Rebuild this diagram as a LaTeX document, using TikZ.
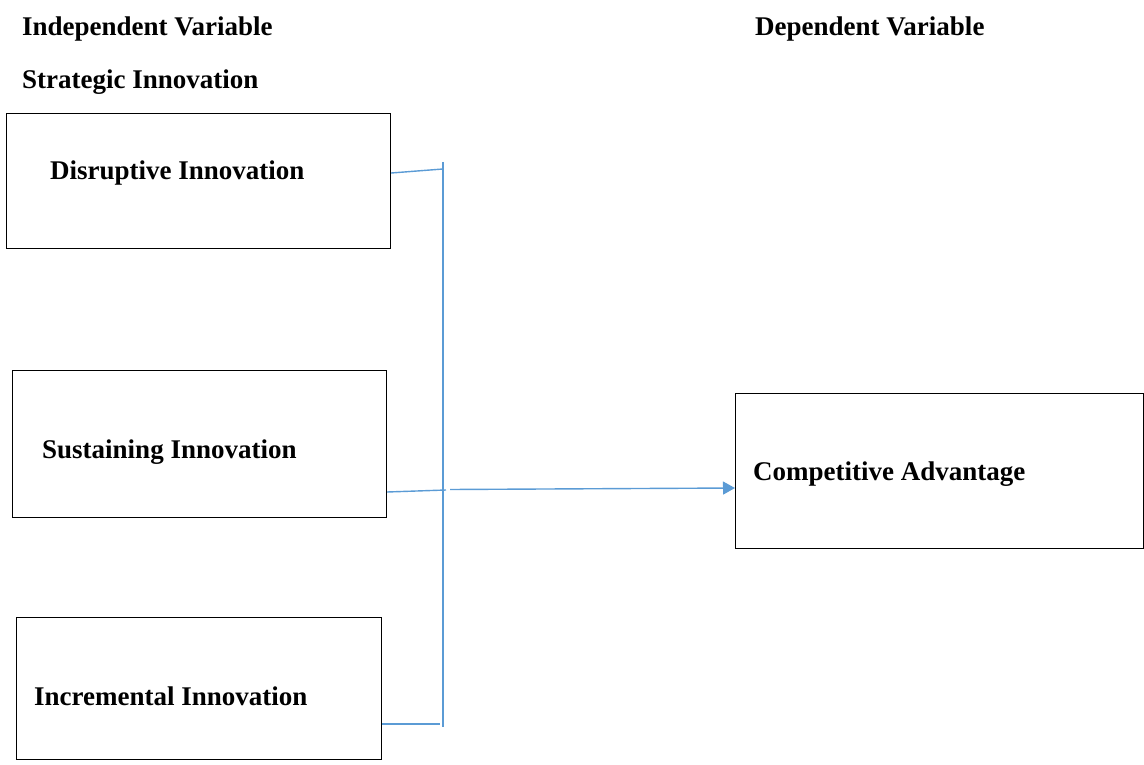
\documentclass[tikz,border=0pt]{standalone}
\usepackage{fontspec}
\setmainfont{Liberation Serif}
\usetikzlibrary{arrows.meta}
\definecolor{linkblue}{RGB}{91,155,213}
\begin{document}
\begin{tikzpicture}[x=1pt,y=-1pt,
  box/.style={draw=black,line width=1.2pt,rectangle,inner sep=0pt,anchor=north west},
  lbl/.style={anchor=west,inner sep=0pt,font=\fontsize{27}{32}\selectfont\bfseries},
  link/.style={draw=linkblue,line width=1.4pt}]
\useasboundingbox (0,0) rectangle (1144,765);
\node[lbl] (indep) at (22,29) {Independent Variable};
\node[lbl] (dep) at (755,29) {Dependent Variable};
\node[lbl] (strat) at (22,82) {Strategic Innovation};
\node[box,minimum width=384pt,minimum height=135pt] (dis) at (6,113) {};
\node[box,minimum width=374pt,minimum height=147pt] (sus) at (12,370) {};
\node[box,minimum width=365pt,minimum height=142pt] (inc) at (16,617) {};
\node[box,minimum width=408pt,minimum height=155pt] (comp) at (735,393) {};
\node[lbl] (tdis) at (50,173) {Disruptive Innovation};
\node[lbl] (tsus) at (42,452) {Sustaining Innovation};
\node[lbl] (tinc) at (34,696) {Incremental Innovation};
\node[lbl] (tcomp) at (753,474) {Competitive Advantage};
\coordinate (bustop) at (443,162);
\coordinate (busbot) at (443,727);
\coordinate (bdis) at (443,169);
\coordinate (bsus) at (446,490);
\coordinate (bsusr) at (450,489.5);
\coordinate (binc) at (440,724);
\draw[link] (bustop) -- (busbot);
\draw[link] (dis.east |- 0,173) -- (bdis);
\draw[link] (sus.east |- 0,492) -- (bsus);
\draw[link] (inc.east |- 0,724) -- (binc);
\draw[link,-{Triangle[length=12pt,width=13pt]}] (bsusr) -- (comp.west |- 0,488);
\end{tikzpicture}
\end{document}
